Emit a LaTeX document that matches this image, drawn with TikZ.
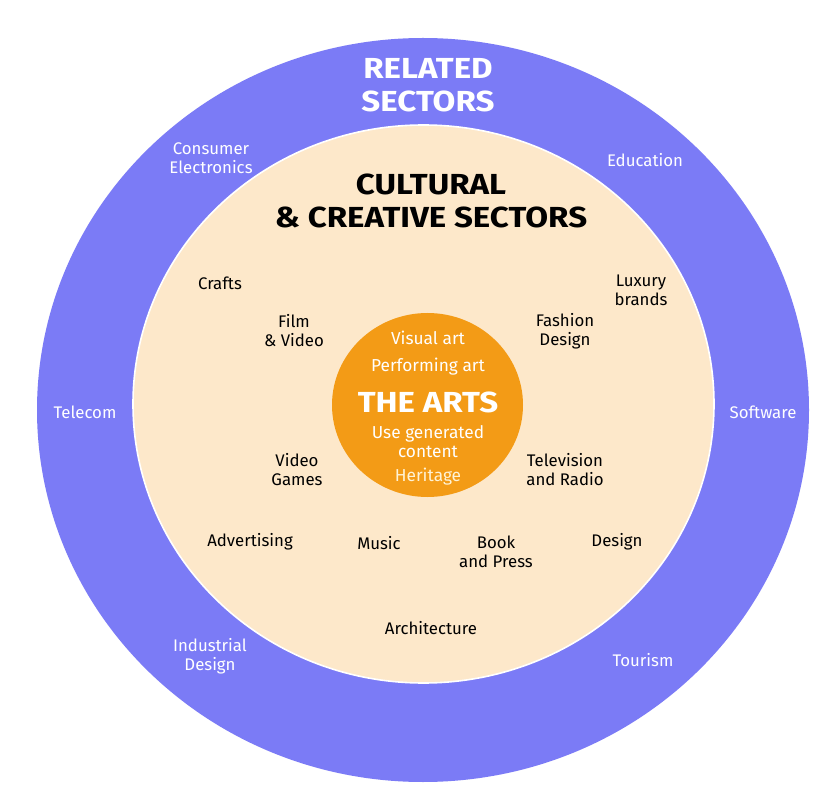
\documentclass[tikz,border=0pt]{standalone}
\usepackage{fontspec}
\setmainfont{Fira Sans}
\newfontfamily\headfont[FakeStretch=1.14]{Fira Sans}
\definecolor{outerc}{HTML}{7B7BF6}
\definecolor{innerc}{HTML}{FDE8CA}
\definecolor{artsc}{HTML}{F39B16}
\definecolor{herc}{HTML}{FFF3D6}
\tikzset{
  ring/.style={draw=white, line width=1.6pt},
  rel/.style={text=white, font=\fontsize{16.8}{19}\selectfont, align=center, inner sep=0pt},
  ccs/.style={text=black, font=\fontsize{16.8}{19}\selectfont, align=center, inner sep=0pt},
  art/.style={text=white, font=\fontsize{17.3}{19}\selectfont, align=center, inner sep=0pt},
  bigw/.style={text=white, font=\headfont\bfseries\fontsize{29}{32}\selectfont, inner sep=0pt},
  bigb/.style={text=black, font=\headfont\bfseries\fontsize{29}{33}\selectfont, inner sep=0pt},
}
\begin{document}
\begin{tikzpicture}[x=1pt,y=-1pt]
\useasboundingbox (0,0) rectangle (833,799);
\fill[white] (0,0) rectangle (833,799);
% circles
\path[fill=outerc] (423,410) ellipse [x radius=386, y radius=372];
\path[fill=innerc, ring] (423.5,404) ellipse [x radius=290.5, y radius=279];
\path[fill=artsc] (427.5,405) ellipse [x radius=95.5, y radius=92];
% related sectors
\node[bigw] (rel1) at (428,68) {RELATED};
\node[bigw] (rel2) at (428,101) {SECTORS};
\node[rel] (consumer) at (211,158) {Consumer\\Electronics};
\node[rel] (education) at (645,160) {Education};
\node[rel] (telecom) at (85,412) {Telecom};
\node[rel] (software) at (763,412) {Software};
\node[rel] (industrial) at (210,656) {Industrial\\Design};
\node[rel] (tourism) at (643,660) {Tourism};
% cultural & creative sectors
\node[bigb] (cc1) at (431,184) {CULTURAL};
\node[bigb] (cc2) at (431,217) {\& CREATIVE SECTORS};
\node[ccs] (crafts) at (220,283) {Crafts};
\node[ccs] (luxury) at (641,290) {Luxury\\brands};
\node[ccs] (film) at (294,331) {Film\\\& Video};
\node[ccs] (fashion) at (565,331) {Fashion\\Design};
\node[ccs] (video) at (297,470) {Video\\Games};
\node[ccs] (tv) at (565,470) {Television\\and Radio};
\node[ccs] (advert) at (250,542) {Advertising};
\node[ccs] (music) at (379,543) {Music};
\node[ccs] (book) at (496,552) {Book\\and Press};
\node[ccs] (design) at (617,542) {Design};
\node[ccs] (arch) at (431,628) {Architecture};
% the arts
\node[art] (visual) at (428,338) {Visual art};
\node[art] (perf) at (428,367) {Performing art};
\node[bigw] (arts) at (428,402) {THE ARTS};
\node[art] (ugc) at (428,442) {Use generated\\content};
\node[art, text=herc] (heritage) at (428,477) {Heritage};
\end{tikzpicture}
\end{document}
